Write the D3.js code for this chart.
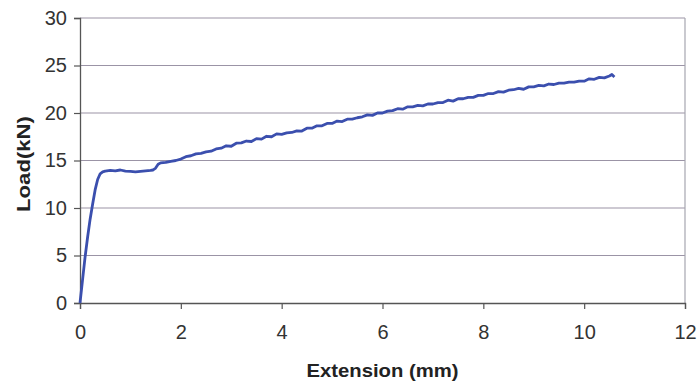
<!DOCTYPE html>
<html>
<head>
<meta charset="utf-8">
<script src="https://cdn.jsdelivr.net/npm/d3@7"></script>
<style>
  html, body { margin: 0; padding: 0; background: #fff; }
  svg { display: block; }
</style>
</head>
<body>
<svg id="chart" width="698" height="382"></svg>
<script>
// Tensile test record: extension (mm) vs load (kN)
const extension = [
  0, 0.05, 0.1, 0.15, 0.2, 0.25, 0.3, 0.35, 0.4, 0.45, 0.5,
  0.6, 0.7, 0.8, 0.9, 1.0, 1.1, 1.2, 1.3, 1.4, 1.45, 1.5, 1.55, 1.6,
  1.7, 1.8, 1.9, 2.0, 2.1, 2.2, 2.3, 2.4, 2.5, 2.6, 2.7, 2.8, 2.9,
  3.0, 3.1, 3.2, 3.3, 3.4, 3.5, 3.6, 3.7, 3.8, 3.9, 4.0, 4.1, 4.2,
  4.3, 4.4, 4.5, 4.6, 4.7, 4.8, 4.9, 5.0, 5.1, 5.2, 5.3, 5.4, 5.5,
  5.6, 5.7, 5.8, 5.9, 6.0, 6.1, 6.2, 6.3, 6.4, 6.5, 6.6, 6.7, 6.8,
  6.9, 7.0, 7.1, 7.2, 7.3, 7.4, 7.5, 7.6, 7.7, 7.8, 7.9, 8.0, 8.1,
  8.2, 8.3, 8.4, 8.5, 8.6, 8.7, 8.8, 8.9, 9.0, 9.1, 9.2, 9.3, 9.4,
  9.5, 9.6, 9.7, 9.8, 9.9, 10.0, 10.1, 10.2, 10.3, 10.4, 10.5, 10.55, 10.6
];
const load = [
  0, 2.4, 4.8, 6.9, 8.8, 10.4, 11.9, 13.0, 13.6, 13.8, 13.88,
  13.95, 13.9, 14.0, 13.88, 13.85, 13.8, 13.86, 13.9, 13.95, 14.0, 14.2, 14.6, 14.75,
  14.8, 14.92, 15.0, 15.15, 15.4, 15.5, 15.7, 15.75, 15.9, 15.98, 16.22, 16.3, 16.55,
  16.5, 16.82, 16.85, 17.05, 17.0, 17.3, 17.25, 17.55, 17.5, 17.8, 17.75, 17.9, 17.95,
  18.12, 18.1, 18.4, 18.4, 18.65, 18.65, 18.9, 18.9, 19.15, 19.1, 19.35, 19.35, 19.5,
  19.6, 19.8, 19.75, 20.0, 20.0, 20.2, 20.25, 20.45, 20.4, 20.65, 20.65, 20.8, 20.75,
  20.95, 20.95, 21.1, 21.1, 21.35, 21.25, 21.5, 21.5, 21.65, 21.65, 21.85, 21.85, 22.05,
  22.05, 22.25, 22.2, 22.4, 22.45, 22.6, 22.5, 22.75, 22.75, 22.9, 22.85, 23.05, 23.0,
  23.15, 23.15, 23.25, 23.25, 23.35, 23.35, 23.6, 23.55, 23.75, 23.7, 23.9, 24.05, 23.8
];
const xTicks = [0, 2, 4, 6, 8, 10, 12];
const yTicks = [0, 5, 10, 15, 20, 25, 30];

const svg = d3.select("#chart");
const margin = { left: 80, right: 13, top: 18, bottom: 79 };
const W = 698, H = 382;
const font = "'Liberation Sans', Arial, sans-serif";

const x = d3.scaleLinear().domain([0, 12]).range([margin.left, W - margin.right]);
const y = d3.scaleLinear().domain([0, 30]).range([H - margin.bottom, margin.top]);

// horizontal gridlines
svg.append("g")
  .selectAll("line")
  .data(yTicks.filter(d => d > 0))
  .join("line")
  .attr("x1", x(0)).attr("x2", x(12))
  .attr("y1", d => y(d)).attr("y2", d => y(d))
  .attr("stroke", "#9b94a6").attr("stroke-width", 1.2);

// right border of plot area
svg.append("line")
  .attr("x1", x(12)).attr("x2", x(12))
  .attr("y1", y(30)).attr("y2", y(0))
  .attr("stroke", "#a6a6b0").attr("stroke-width", 1.2);

// axes
const xAxis = svg.append("g")
  .attr("transform", `translate(0,${y(0)})`)
  .call(d3.axisBottom(x).tickValues(xTicks).tickSize(6).tickPadding(16).tickFormat(d3.format("d")));
const yAxis = svg.append("g")
  .attr("transform", `translate(${x(0)},0)`)
  .call(d3.axisLeft(y).tickValues(yTicks).tickSize(6).tickPadding(7).tickFormat(d3.format("d")));

[xAxis, yAxis].forEach(g => {
  g.select(".domain").attr("stroke", "#555").attr("stroke-width", 1.3);
  g.selectAll(".tick line").attr("stroke", "#555").attr("stroke-width", 1.2);
  g.selectAll(".tick text")
    .attr("fill", "#333")
    .style("font-family", font)
    .style("font-size", "20px");
});

// data line
const line = d3.line()
  .x((d, i) => x(extension[i]))
  .y(d => y(d));
svg.append("path")
  .datum(load)
  .attr("d", line)
  .attr("fill", "none")
  .attr("stroke", "#3b4fae")
  .attr("stroke-width", 2.8)
  .attr("stroke-linejoin", "round");

// axis titles
svg.append("text")
  .attr("x", (x(0) + x(12)) / 2).attr("y", 377)
  .attr("text-anchor", "middle")
  .attr("fill", "#222")
  .attr("textLength", 152).attr("lengthAdjust", "spacingAndGlyphs")
  .style("font-family", font)
  .style("font-size", "19px").style("font-weight", "bold")
  .text("Extension (mm)");

svg.append("text")
  .attr("transform", `translate(30,164) rotate(-90)`)
  .attr("text-anchor", "middle")
  .attr("fill", "#222")
  .attr("textLength", 96).attr("lengthAdjust", "spacingAndGlyphs")
  .style("font-family", font)
  .style("font-size", "19px").style("font-weight", "bold")
  .text("Load(kN)");
</script>
</body>
</html>
